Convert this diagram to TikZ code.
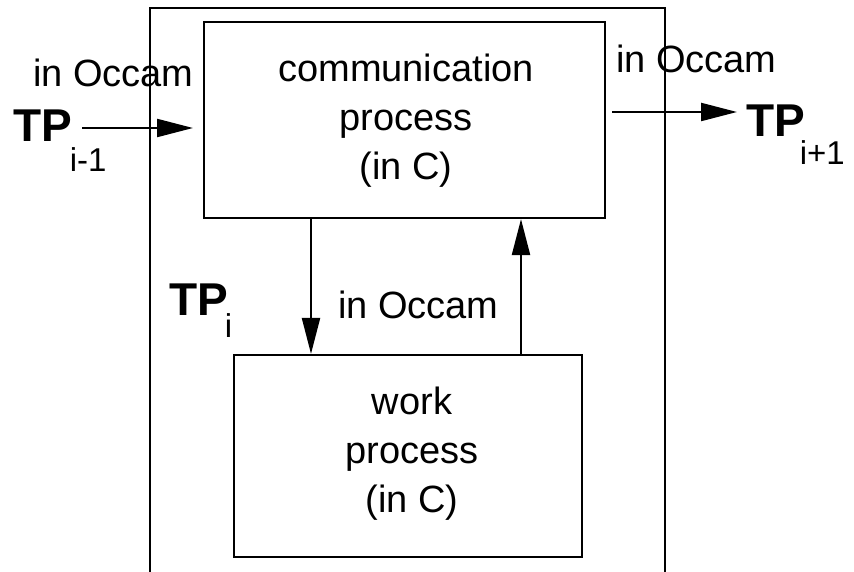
\documentclass[tikz,border=0pt]{standalone}
\usepackage{fontspec}
\setmainfont{Liberation Sans}
\usetikzlibrary{arrows.meta}
\begin{document}
\begin{tikzpicture}[x=1pt,y=-1pt,line width=2.2pt,
  box/.style={draw,inner sep=0pt},
  lbl/.style={inner sep=0pt,anchor=base,align=center,font=\fontsize{38}{49}\selectfont},
  occ/.style={inner sep=0pt,anchor=base west,font=\fontsize{38}{46}\selectfont},
  tp/.style={inner sep=0pt,anchor=base west,font=\fontsize{46}{50}\selectfont\bfseries},
  arr/.style={-{Triangle[length=36pt,width=18pt]}}]
\useasboundingbox (0,0) rectangle (854,572);
% outer box (open at the bottom)
\coordinate (ob1) at (150,572);
\coordinate (ob2) at (150,8);
\coordinate (ob3) at (665,8);
\coordinate (ob4) at (665,572);
\draw (ob1) -- (ob2) -- (ob3) -- (ob4);
% process boxes
\node[box,minimum width=401pt,minimum height=196pt] (comm) at (404.5,120) {};
\node[box,minimum width=348pt,minimum height=202pt] (work) at (408,456) {};
\node[lbl] (commtxt) at (406,180) {communication\\process\\(in C)};
\node[lbl] (worktxt) at (412,512) {work\\process\\(in C)};
% TP labels
\node[tp] (tpm) at (12,142) {TP\kern-2pt\raisebox{-30pt}{\fontsize{33}{33}\selectfont\mdseries i-1}};
\node[tp] (tpp) at (745,137) {TP\kern-5pt\raisebox{-28pt}{\fontsize{33}{33}\selectfont\mdseries i+1}};
\node[tp] (tpi) at (168,315) {TP\kern-3pt\raisebox{-22pt}{\fontsize{33}{33}\selectfont\mdseries i}};
% in Occam labels
\node[occ] (occL) at (32,87) {in Occam};
\node[occ] (occR) at (615,73) {in Occam};
\node[occ] (occM) at (337,318) {in Occam};
% connectors
\coordinate (lin0) at (82,128);
\coordinate (lin1) at (193,128);
\draw[arr] (lin0) -- (lin1);
\coordinate (rout0) at (612,112);
\coordinate (rout1) at (737,112);
\draw[arr] (rout0) -- (rout1);
\coordinate (dx) at (311,0);
\coordinate (ux) at (521,0);
\draw[arr] (comm.south -| dx) -- (work.north -| dx);
\draw[arr] (work.north -| ux) -- (comm.south -| ux);
\end{tikzpicture}
\end{document}
